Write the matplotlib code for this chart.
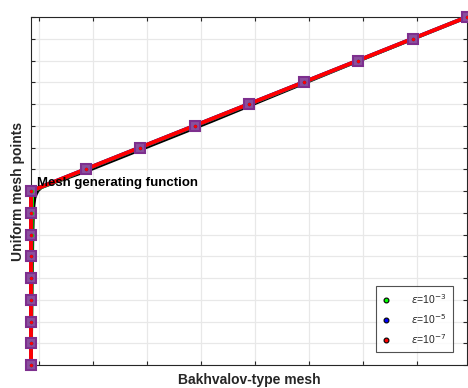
import matplotlib
matplotlib.use("Agg")
import matplotlib.pyplot as plt
import numpy as np

plt.rcParams["font.family"] = ["Liberation Sans", "DejaVu Sans"]

# uniform mesh points t_j = j/16 and Bakhvalov-type mesh x_j
t_uniform = [0, 1/16, 2/16, 3/16, 4/16, 5/16, 6/16, 7/16, 8/16,
             9/16, 10/16, 11/16, 12/16, 13/16, 14/16, 15/16, 1.0]
x_eps3 = [0, 0.0002, 0.0004, 0.0006, 0.0008, 0.0010, 0.0013, 0.0017, 0.0025,
          0.126, 0.251, 0.376, 0.501, 0.626, 0.751, 0.876, 1.0]
x_eps5 = [0, 0.00001, 0.00002, 0.00003, 0.00004, 0.00005, 0.00007, 0.00010, 0.00015,
          0.125, 0.250, 0.375, 0.500, 0.625, 0.750, 0.875, 1.0]
x_eps7 = [0, 0, 0, 0, 0, 0, 0, 0, 0,
          0.125, 0.250, 0.375, 0.500, 0.625, 0.750, 0.875, 1.0]

# mesh generating function (black curve)
gen_t = [0, 0.10, 0.20, 0.30, 0.38, 0.43, 0.46, 0.48, 0.49, 0.50, 0.51, 0.53,
         0.5625, 0.70, 0.85, 1.0]
gen_x = [0, 0.0015, 0.0025, 0.0035, 0.0045, 0.0055, 0.0070, 0.0090, 0.012, 0.016,
         0.024, 0.068, 0.140, 0.415, 0.706, 1.0]

eps_labels = [r"$\epsilon$=10$^{-3}$", r"$\epsilon$=10$^{-5}$", r"$\epsilon$=10$^{-7}$"]
colors = ["#00ff00", "#0000ff", "#ff0000"]

fig = plt.figure(figsize=(4.68, 3.88), dpi=100)
ax = fig.add_axes([31/468, 23/388, 436/468, 348/388])

ax.plot(gen_x, gen_t, color="black", lw=2.0, zorder=3)

for xs, c in zip([x_eps3, x_eps5, x_eps7], colors):
    ax.plot(xs, t_uniform, color=c, lw=2.8, zorder=4, clip_on=False)
ax.plot(x_eps7, t_uniform, ls="none", marker="s", ms=7, mfc="#8a4f9e",
        mec="#7e2f8e", mew=1.5, zorder=5, clip_on=False)
for xs, c in zip([x_eps3, x_eps5, x_eps7], colors):
    ax.plot(xs, t_uniform, ls="none", marker="o", ms=2.2, mfc=c, mec=c,
            mew=0.3, zorder=6, clip_on=False)

# legend entries: coloured dots with black edge
handles = [plt.Line2D([], [], ls="none", marker="o", ms=3.5, mfc=c, mec="black",
                      mew=0.8, label=lab) for c, lab in zip(colors, eps_labels)]

ax.text(0.014, 0.522, "Mesh generating function", fontsize=9.5, fontweight="bold",
        ha="left", va="center", zorder=7)

ax.set_xlim(0, 1)
ax.set_ylim(0, 1)
ax.set_xticks(0.0183 + 0.1239 * np.arange(8))
ax.set_yticks(t_uniform)
ax.set_xticklabels([])
ax.set_yticklabels([])
ax.tick_params(direction="in", top=True, right=True, length=3, width=0.8,
               colors="#262626")
ax.grid(True, color="#e8e8e8", lw=0.9)
ax.set_axisbelow(True)
for s in ax.spines.values():
    s.set_color("#262626")
    s.set_linewidth(0.8)

ax.set_xlabel("Bakhvalov-type mesh", fontsize=10, fontweight="bold", color="#262626",
              labelpad=2)
ax.set_ylabel("Uniform mesh points", fontsize=10, fontweight="bold", color="#262626",
              labelpad=1)

leg = ax.legend(handles=handles, loc="lower right", bbox_to_anchor=(0.968, 0.037),
                fontsize=7.5, frameon=True, fancybox=False, edgecolor="#262626",
                handlelength=0.8, handletextpad=2.0, borderpad=0.6,
                labelspacing=0.6, borderaxespad=0)
leg.get_frame().set_linewidth(0.8)
for t in leg.get_texts():
    t.set_color("#262626")

fig.savefig("out.png", dpi=100)
